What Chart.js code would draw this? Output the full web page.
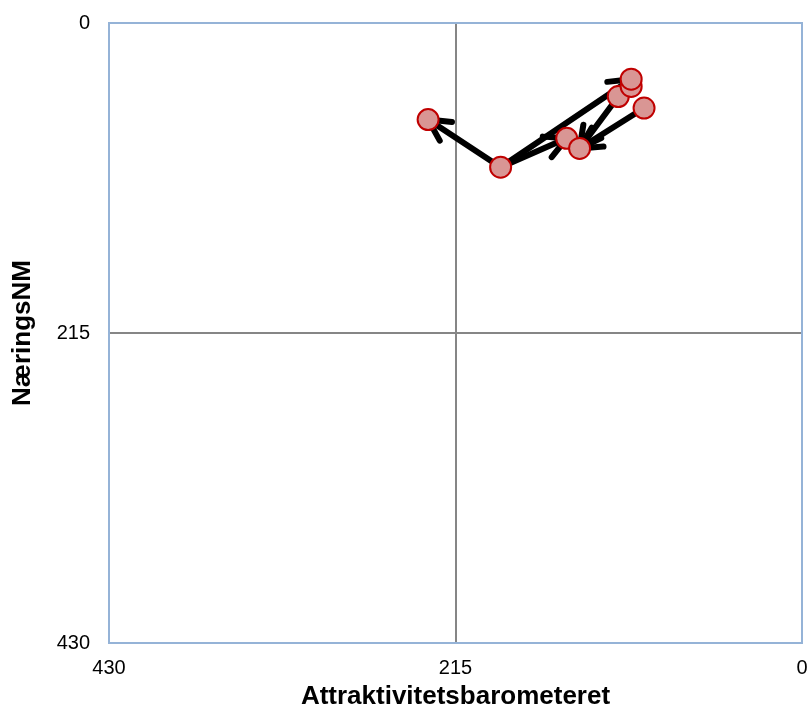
<!DOCTYPE html>
<html>
<head>
<meta charset="utf-8">
<script src="https://cdn.jsdelivr.net/npm/chart.js@4/dist/chart.umd.min.js"></script>
<style>
  html, body { margin: 0; padding: 0; background: #ffffff; }
  #wrap { width: 807px; height: 710px; position: relative; }
</style>
</head>
<body>
<div id="wrap"><canvas id="c" width="807" height="710"></canvas></div>
<script>
// Points (x = Attraktivitetsbarometeret rank, y = NæringsNM rank)
const pointX = [232, 187, 146, 138, 114, 106, 106, 98];
const pointY = [67, 100, 80, 87, 51, 44, 39, 59];

// Arrow routes (an arrowhead at the end of every segment)
const route1X = [187, 232]; const route1Y = [100, 67];
const route2X = [187, 106]; const route2Y = [100, 39];
const route3X = [114, 138]; const route3Y = [51, 87];
const route4X = [98, 138];  const route4Y = [59, 87];
const route5X = [187, 146]; const route5Y = [100, 80];

const tickValues = [0, 215, 430];
const xTitle = 'Attraktivitetsbarometeret';
const yTitle = 'NæringsNM';

const toPts = (xs, ys) => xs.map((x, i) => ({ x: x, y: ys[i] }));
const routes = [
  toPts(route1X, route1Y), toPts(route2X, route2Y), toPts(route3X, route3Y),
  toPts(route4X, route4Y), toPts(route5X, route5Y)
];

const FONT = "'Liberation Sans', Arial, sans-serif";

const frameAndArrows = {
  id: 'frameAndArrows',
  beforeDatasetsDraw(chart) {
    const ctx = chart.ctx;
    const xs = chart.scales.x, ys = chart.scales.y;
    const a = chart.chartArea;
    ctx.save();
    ctx.beginPath();
    ctx.rect(a.left, a.top, a.right - a.left, a.bottom - a.top);
    ctx.clip();
    ctx.strokeStyle = '#000000';
    ctx.lineWidth = 6;
    ctx.lineCap = 'round';
    ctx.lineJoin = 'round';
    const len = 24, ang = Math.PI / 6.5;
    routes.forEach(pts => {
      for (let i = 1; i < pts.length; i++) {
        const x0 = xs.getPixelForValue(pts[i - 1].x), y0 = ys.getPixelForValue(pts[i - 1].y);
        const x1 = xs.getPixelForValue(pts[i].x), y1 = ys.getPixelForValue(pts[i].y);
        const th = Math.atan2(y0 - y1, x0 - x1);
        ctx.beginPath();
        ctx.moveTo(x1 + len * Math.cos(th + ang), y1 + len * Math.sin(th + ang));
        ctx.lineTo(x1, y1);
        ctx.lineTo(x1 + len * Math.cos(th - ang), y1 + len * Math.sin(th - ang));
        ctx.stroke();
      }
    });
    ctx.restore();
  },
  afterDraw(chart) {
    const ctx = chart.ctx;
    const a = chart.chartArea;
    ctx.save();
    ctx.strokeStyle = '#95B3D7';
    ctx.lineWidth = 2;
    ctx.strokeRect(a.left, a.top, a.right - a.left, a.bottom - a.top);
    ctx.restore();
  }
};

const lineDs = pts => ({
  data: pts,
  showLine: true,
  borderColor: '#000000',
  borderWidth: 6,
  borderCapStyle: 'round',
  borderJoinStyle: 'round',
  pointRadius: 0,
  pointHoverRadius: 0,
  tension: 0
});

new Chart(document.getElementById('c'), {
  type: 'scatter',
  data: {
    datasets: [
      {
        data: toPts(pointX, pointY),
        showLine: false,
        pointRadius: 10.5,
        pointHoverRadius: 10.5,
        pointBackgroundColor: '#D99694',
        pointBorderColor: '#C00000',
        pointBorderWidth: 2
      },
      ...routes.map(lineDs)
    ]
  },
  options: {
    responsive: false,
    animation: false,
    devicePixelRatio: 1,
    layout: { autoPadding: false, padding: { top: 23, right: 5, left: 0, bottom: 0 } },
    plugins: { legend: { display: false }, tooltip: { enabled: false } },
    scales: {
      x: {
        type: 'linear',
        min: 0, max: 430,
        reverse: true,
        afterBuildTicks: s => { s.ticks = tickValues.map(v => ({ value: v })); },
        afterFit: s => { s.height = 67; s.paddingLeft = 0; s.paddingRight = 0; },
        ticks: { color: '#000000', font: { family: FONT, size: 20 }, padding: 13, maxRotation: 0 },
        grid: {
          drawTicks: false,
          color: c => (c.tick && c.tick.value === 215) ? '#868686' : 'rgba(0,0,0,0)',
          lineWidth: 2
        },
        border: { display: false },
        title: {
          display: true, text: xTitle, color: '#000000',
          font: { family: FONT, size: 26, weight: 'bold', lineHeight: 1 },
          padding: { top: -1, bottom: 0 }
        }
      },
      y: {
        type: 'linear',
        min: 0, max: 430,
        reverse: true,
        afterBuildTicks: s => { s.ticks = tickValues.map(v => ({ value: v })); },
        afterFit: s => { s.width = 109; s.paddingTop = 0; s.paddingBottom = 0; },
        ticks: { color: '#000000', font: { family: FONT, size: 20 }, padding: 19 },
        grid: {
          drawTicks: false,
          color: c => (c.tick && c.tick.value === 215) ? '#868686' : 'rgba(0,0,0,0)',
          lineWidth: 2
        },
        border: { display: false },
        title: {
          display: true, text: yTitle, color: '#000000',
          font: { family: FONT, size: 26, weight: 'bold', lineHeight: 1 },
          padding: { top: 10, bottom: 0 }
        }
      }
    }
  },
  plugins: [frameAndArrows]
});
</script>
</body>
</html>
